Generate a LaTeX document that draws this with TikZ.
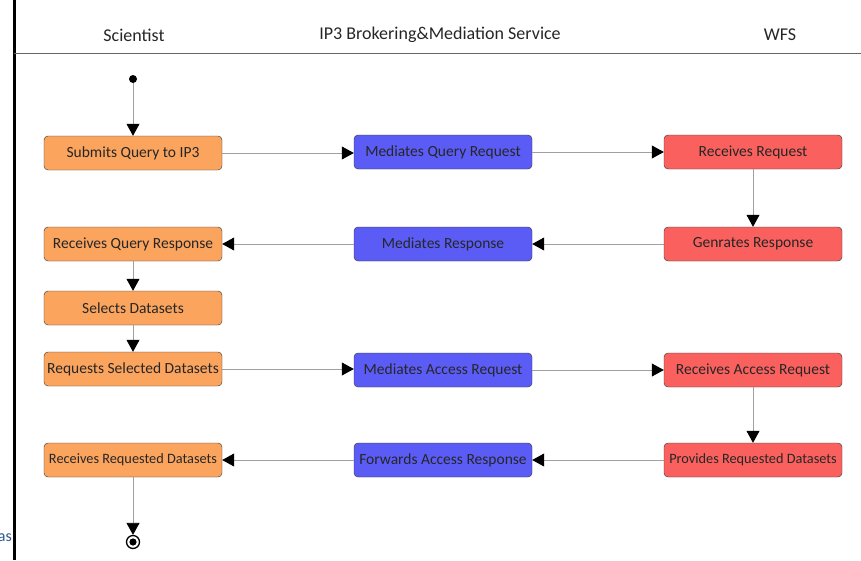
\documentclass[tikz,border=0pt]{standalone}
\usepackage{fontspec}
\setmainfont{Carlito}
\usetikzlibrary{arrows.meta}

\definecolor{scifill}{HTML}{FBA45E}
\definecolor{medfill}{HTML}{5B5CF6}
\definecolor{wfsfill}{HTML}{FA615E}
\definecolor{flowline}{HTML}{A0A0A0}
\definecolor{slideblue}{HTML}{2A5A8C}

\begin{document}
\begin{tikzpicture}[
  x=1pt, y=-1pt,
  every node/.style={font=\fontsize{15.5}{17}\selectfont, text=black!85},
  lane/.style={font=\fontsize{18}{20}\selectfont},
  box/.style={draw=black!80, rounded corners=4pt, align=center, minimum width=178pt, minimum height=34pt, inner sep=0pt},
  small/.style={font=\fontsize{14.3}{16}\selectfont},
  arrow/.style={draw=flowline, line width=0.8pt, -{Triangle[length=12pt,width=13pt,color=black]}}
]
\useasboundingbox (0,0) rectangle (861,560);

% Swimlane frame
\draw[line width=3pt] (14,0) -- (14,560);
\draw[draw=black!60, line width=1pt] (14,53) -- (861,53);
\node[lane] (sci) at (134,35) {Scientist};
\node[lane] (ip3) at (440,35) {IP3 Brokering\&Mediation Service};
\node[lane] (wfs) at (780,35) {WFS};

% Scientist lane
\node[circle, fill=black, inner sep=0pt, minimum size=8pt] (start) at (133,79) {};
\node[box, fill=scifill] (submit) at (133,153) {Submits Query to IP3};
\node[box, fill=scifill] (gotresp) at (133,244) {Receives Query Response};
\node[box, fill=scifill] (select) at (133,308) {Selects Datasets};
\node[box, fill=scifill] (reqsel) at (133,369) {Requests Selected Datasets};
\node[box, fill=scifill, small] (gotdata) at (133,460) {Receives Requested Datasets};
\node[circle, draw=black, line width=1.3pt, inner sep=0pt, minimum size=13pt] (stop) at (133,542) {};
\fill (stop) circle (3.6pt);

% Mediation lane
\node[box, fill=medfill] (medquery) at (443,152) {Mediates Query Request};
\node[box, fill=medfill] (medresp) at (443,244) {Mediates Response};
\node[box, fill=medfill] (medaccess) at (443,370) {Mediates Access Request};
\node[box, fill=medfill] (fwdresp) at (443,460) {Forwards Access Response};

% WFS lane
\node[box, fill=wfsfill] (recreq) at (753,152) {Receives Request};
\node[box, fill=wfsfill] (genresp) at (753,244) {Genrates Response};
\node[box, fill=wfsfill] (recaccess) at (753,370) {Receives Access Request};
\node[box, fill=wfsfill, small] (provide) at (753,460) {Provides Requested Datasets};

% Flow
\draw[arrow] (start) -- (submit);
\draw[arrow] (submit) -- (submit -| medquery.west);
\draw[arrow] (medquery) -- (recreq);
\draw[arrow] (recreq) -- (genresp);
\draw[arrow] (genresp) -- (medresp);
\draw[arrow] (medresp) -- (gotresp);
\draw[arrow] (gotresp) -- (select);
\draw[arrow] (select) -- (reqsel);
\draw[arrow] (reqsel) -- (reqsel -| medaccess.west);
\draw[arrow] (medaccess) -- (recaccess);
\draw[arrow] (recaccess) -- (provide);
\draw[arrow] (provide) -- (fwdresp);
\draw[arrow] (fwdresp) -- (gotdata);
\draw[arrow] (gotdata) -- (stop);

% Leftover slide text
\node[anchor=east, text=slideblue, font=\fontsize{16}{18}\selectfont, inner sep=0pt] (edge) at (12,538) {as};

\end{tikzpicture}
\end{document}
